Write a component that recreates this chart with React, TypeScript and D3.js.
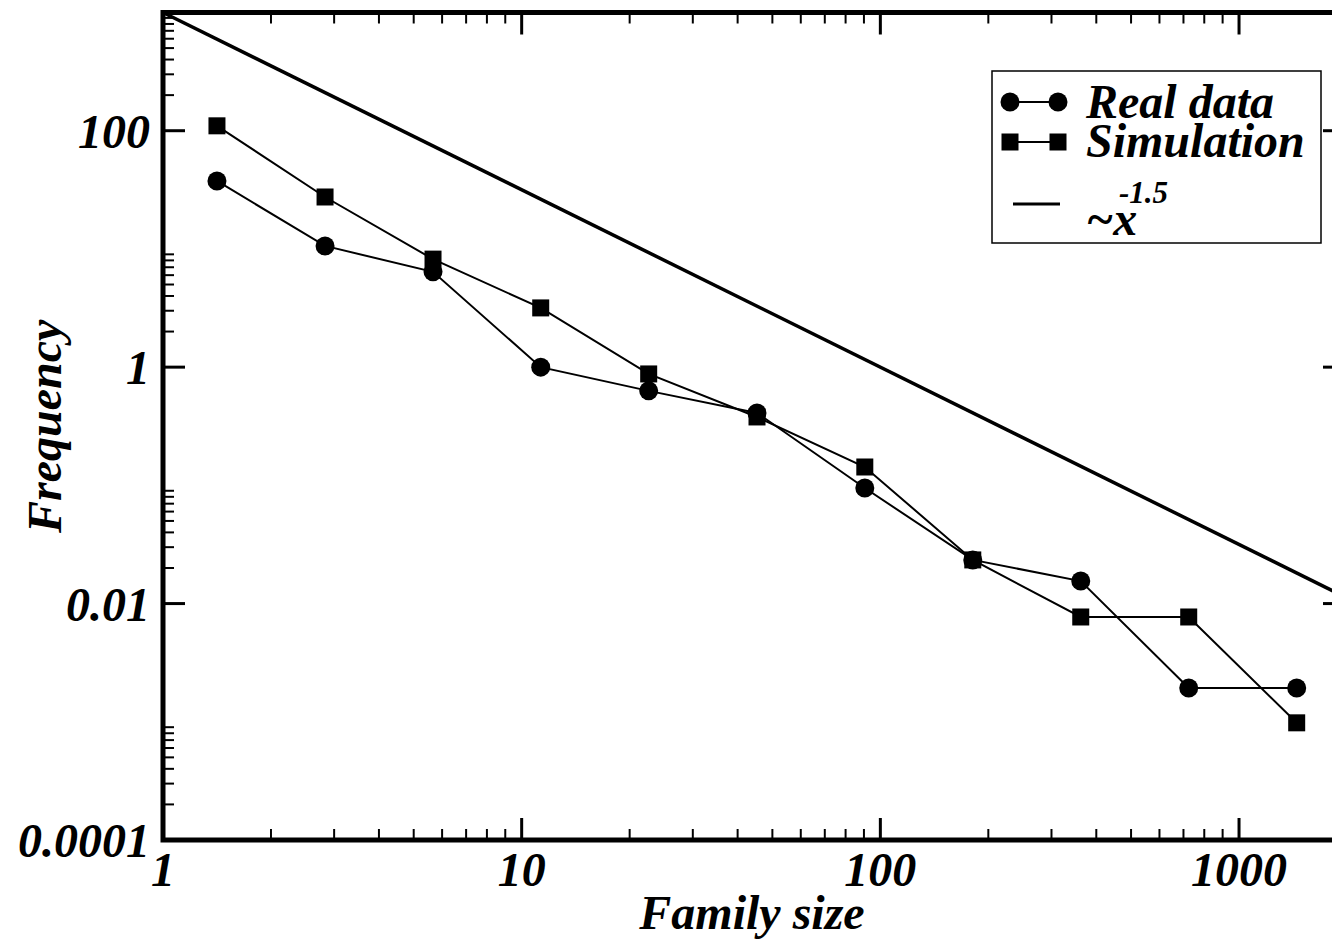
import React from "react"
import { scaleLog, line, range } from "d3"

// family size bins and frequencies
const familySize = [1.414, 2.83, 5.66, 11.3, 22.6, 45.3, 90.5, 181, 362, 724, 1448]
const realData = [37.6, 10.6, 6.4, 1.0, 0.63, 0.41, 0.095, 0.0234, 0.0155, 0.00193, 0.00193]
const simulation = [110, 27.5, 8.2, 3.17, 0.876, 0.379, 0.143, 0.0234, 0.0077, 0.0077, 0.00098]
const powerLawX = [1, 2000]
const xTickValues = [1, 10, 100, 1000]
const xTickLabels = ["1", "10", "100", "1000"]
const yTickValues = [0.0001, 0.01, 1, 100]
const yTickLabels = ["0.0001", "0.01", "1", "100"]

const W = 1332
const H = 946
const left = 163
const right = 1347
const top = 12.5
const bottom = 840

const font = "'Liberation Serif', 'Times New Roman', serif"

export default function App() {
  const x = scaleLog().domain([1, 2000]).range([left, right])
  const y = scaleLog().domain([0.0001, 1000]).range([bottom, top])

  const xMinor: number[] = []
  xTickValues.forEach(m => range(2, 10).forEach(k => { if (k * m <= 2000) xMinor.push(k * m) }))
  const yMinor: number[] = []
  yTickValues.forEach(m => range(2, 10).forEach(k => yMinor.push(k * m)))

  const path = line<number>()
    .x((d, i) => x(familySize[i]))
    .y(d => y(d))

  const powerLaw = line<number>()
    .x(d => x(d))
    .y(d => y(1000 * Math.pow(d, -1.5)))

  const textStyle = { fontFamily: font, fontWeight: "bold" as const, fontStyle: "italic" as const, fontSize: 48 }

  return (
    <svg width={W} height={H} style={{ position: "absolute", left: 0, top: 0, background: "#fff" }}>
      {/* power law */}
      <path d={powerLaw(powerLawX) || ""} fill="none" stroke="#000" strokeWidth={3.5} />

      {/* series */}
      <path d={path(realData) || ""} fill="none" stroke="#000" strokeWidth={2} />
      <path d={path(simulation) || ""} fill="none" stroke="#000" strokeWidth={2} />
      {realData.map((d, i) => (
        <circle key={"r" + i} cx={x(familySize[i])} cy={y(d)} r={9.5} fill="#000" />
      ))}
      {simulation.map((d, i) => (
        <rect key={"s" + i} x={x(familySize[i]) - 8.5} y={y(d) - 8.5} width={17} height={17} fill="#000" />
      ))}

      {/* ticks */}
      <g stroke="#000">
        {xTickValues.map(v => (
          <g key={"xm" + v} strokeWidth={3}>
            <line x1={x(v)} x2={x(v)} y1={bottom} y2={bottom - 22} />
            <line x1={x(v)} x2={x(v)} y1={top} y2={top + 22} />
          </g>
        ))}
        {xMinor.map(v => (
          <g key={"xn" + v} strokeWidth={2}>
            <line x1={x(v)} x2={x(v)} y1={bottom} y2={bottom - 11} />
            <line x1={x(v)} x2={x(v)} y1={top} y2={top + 11} />
          </g>
        ))}
        {yTickValues.map(v => (
          <g key={"ym" + v} strokeWidth={3}>
            <line x1={left} x2={left + 22} y1={y(v)} y2={y(v)} />
            <line x1={right} x2={right - 24} y1={y(v)} y2={y(v)} />
          </g>
        ))}
        {yMinor.map(v => (
          <g key={"yn" + v} strokeWidth={2}>
            <line x1={left} x2={left + 11} y1={y(v)} y2={y(v)} />
            <line x1={right} x2={right - 11} y1={y(v)} y2={y(v)} />
          </g>
        ))}
      </g>

      {/* frame */}
      <rect x={left} y={top} width={right - left} height={bottom - top} fill="none" stroke="#000" strokeWidth={5} />

      {/* tick labels */}
      {xTickValues.map((v, i) => (
        <text key={"xl" + v} x={x(v)} y={886} textAnchor="middle" style={textStyle}>{xTickLabels[i]}</text>
      ))}
      {yTickValues.map((v, i) => (
        <text key={"yl" + v} x={150} y={y(v) + 17} textAnchor="end" style={textStyle}>{yTickLabels[i]}</text>
      ))}

      {/* axis titles */}
      <text x={752} y={929} textAnchor="middle" style={textStyle}>Family size</text>
      <text transform={`translate(61,${(top + bottom) / 2}) rotate(-90)`} textAnchor="middle" style={textStyle}>Frequency</text>

      {/* legend */}
      <rect x={992} y={71} width={329} height={172} fill="#fff" stroke="#000" strokeWidth={1.5} />
      <line x1={1010} x2={1058} y1={102} y2={102} stroke="#000" strokeWidth={2} />
      <circle cx={1010} cy={102} r={9.5} fill="#000" />
      <circle cx={1058} cy={102} r={9.5} fill="#000" />
      <line x1={1010} x2={1058} y1={142} y2={142} stroke="#000" strokeWidth={2} />
      <rect x={1001.5} y={133.5} width={17} height={17} fill="#000" />
      <rect x={1049.5} y={133.5} width={17} height={17} fill="#000" />
      <line x1={1013} x2={1060} y1={204} y2={204} stroke="#000" strokeWidth={3} />
      <text style={textStyle}>
        <tspan x={1086} y={118}>Real data</tspan>
        <tspan x={1086} y={157}>Simulation</tspan>
        <tspan x={1086} y={235}>~x</tspan>
        <tspan x={1119} y={203} style={{ fontSize: 31 }}>-1.5</tspan>
      </text>
    </svg>
  )
}
